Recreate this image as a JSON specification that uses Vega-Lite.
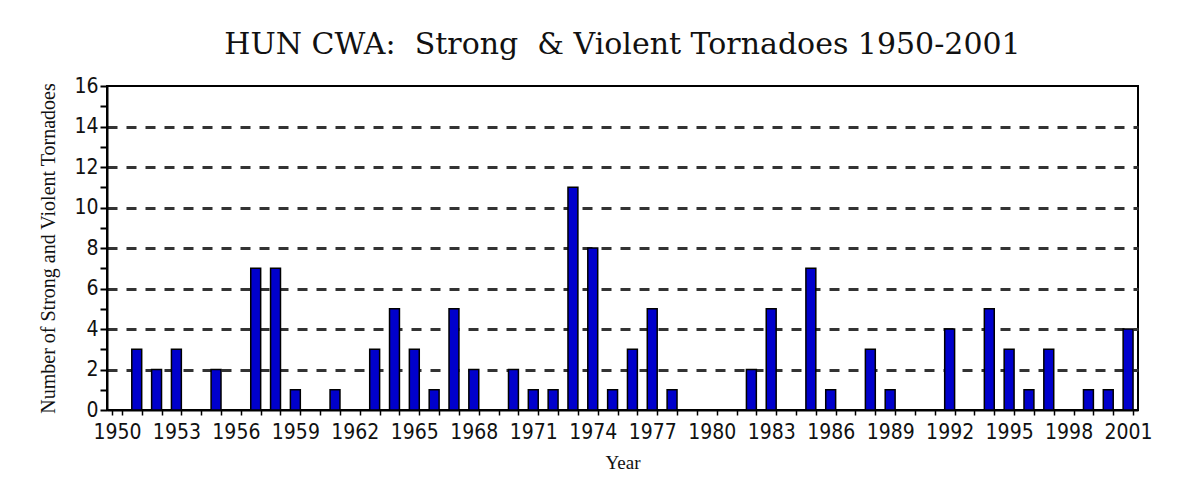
{
  "$schema": "https://vega.github.io/schema/vega-lite/v6.json",
  "autosize": "none",
  "width": 1031,
  "height": 324,
  "padding": {"left": 107, "top": 86, "right": 57, "bottom": 73},
  "background": "white",
  "title": {
    "text": "HUN CWA:\u00a0\u00a0Strong\u00a0\u00a0& Violent Tornadoes 1950-2001",
    "font": "DejaVu Serif",
    "fontSize": 30,
    "fontWeight": "normal",
    "color": "#111",
    "anchor": "middle",
    "offset": 15
  },
  "data": {
    "values": [
      {"year": 1950, "count": 0}, {"year": 1951, "count": 3}, {"year": 1952, "count": 2},
      {"year": 1953, "count": 3}, {"year": 1954, "count": 0}, {"year": 1955, "count": 2},
      {"year": 1956, "count": 0}, {"year": 1957, "count": 7}, {"year": 1958, "count": 7},
      {"year": 1959, "count": 1}, {"year": 1960, "count": 0}, {"year": 1961, "count": 1},
      {"year": 1962, "count": 0}, {"year": 1963, "count": 3}, {"year": 1964, "count": 5},
      {"year": 1965, "count": 3}, {"year": 1966, "count": 1}, {"year": 1967, "count": 5},
      {"year": 1968, "count": 2}, {"year": 1969, "count": 0}, {"year": 1970, "count": 2},
      {"year": 1971, "count": 1}, {"year": 1972, "count": 1}, {"year": 1973, "count": 11},
      {"year": 1974, "count": 8}, {"year": 1975, "count": 1}, {"year": 1976, "count": 3},
      {"year": 1977, "count": 5}, {"year": 1978, "count": 1}, {"year": 1979, "count": 0},
      {"year": 1980, "count": 0}, {"year": 1981, "count": 0}, {"year": 1982, "count": 2},
      {"year": 1983, "count": 5}, {"year": 1984, "count": 0}, {"year": 1985, "count": 7},
      {"year": 1986, "count": 1}, {"year": 1987, "count": 0}, {"year": 1988, "count": 3},
      {"year": 1989, "count": 1}, {"year": 1990, "count": 0}, {"year": 1991, "count": 0},
      {"year": 1992, "count": 4}, {"year": 1993, "count": 0}, {"year": 1994, "count": 5},
      {"year": 1995, "count": 3}, {"year": 1996, "count": 1}, {"year": 1997, "count": 3},
      {"year": 1998, "count": 0}, {"year": 1999, "count": 1}, {"year": 2000, "count": 1},
      {"year": 2001, "count": 4}
    ]
  },
  "mark": {"type": "bar", "color": "#0000CC", "stroke": "#000", "strokeWidth": 1.5},
  "encoding": {
    "x": {
      "field": "year",
      "type": "ordinal",
      "scale": {"paddingInner": 0.5, "paddingOuter": 0.25},
      "axis": {
        "title": "Year",
        "titleFont": "Liberation Serif",
        "titleFontSize": 19,
        "titleFontWeight": "normal",
        "titleColor": "#111",
        "titlePadding": 11,
        "labelAngle": 0,
        "labelFont": "DejaVu Sans Condensed, sans-serif",
        "labelFontSize": 21,
        "labelColor": "#111",
        "labelPadding": 6,
        "labelExpr": "(datum.value - 1950) % 3 == 0 ? datum.label : ''",
        "tickBand": "extent",
        "tickSize": 5,
        "tickColor": "#000",
        "tickWidth": 1.5,
        "domainColor": "#000",
        "domainWidth": 2,
        "grid": false
      }
    },
    "y": {
      "field": "count",
      "type": "quantitative",
      "scale": {"domain": [0, 16], "nice": false},
      "axis": {
        "title": "Number of Strong and Violent Tornadoes",
        "titleFont": "Liberation Serif",
        "titleFontSize": 20,
        "titleFontWeight": "normal",
        "titleColor": "#111",
        "titlePadding": 15,
        "values": [0, 1, 2, 3, 4, 5, 6, 7, 8, 9, 10, 11, 12, 13, 14, 15, 16],
        "labelExpr": "datum.value % 2 == 0 ? datum.label : ''",
        "labelFont": "DejaVu Sans Condensed, sans-serif",
        "labelFontSize": 21,
        "labelColor": "#111",
        "labelPadding": 2,
        "tickSize": 7,
        "tickColor": "#000",
        "tickWidth": 2,
        "domainColor": "#000",
        "domainWidth": 2,
        "grid": true,
        "gridColor": "#333",
        "gridWidth": 3,
        "gridDash": [10, 9],
        "gridOpacity": {"condition": {"test": "datum.value % 2 == 0 && datum.value > 0 && datum.value < 16", "value": 1}, "value": 0}
      }
    }
  },
  "config": {
    "view": {"stroke": "#000", "strokeWidth": 2}
  }
}
